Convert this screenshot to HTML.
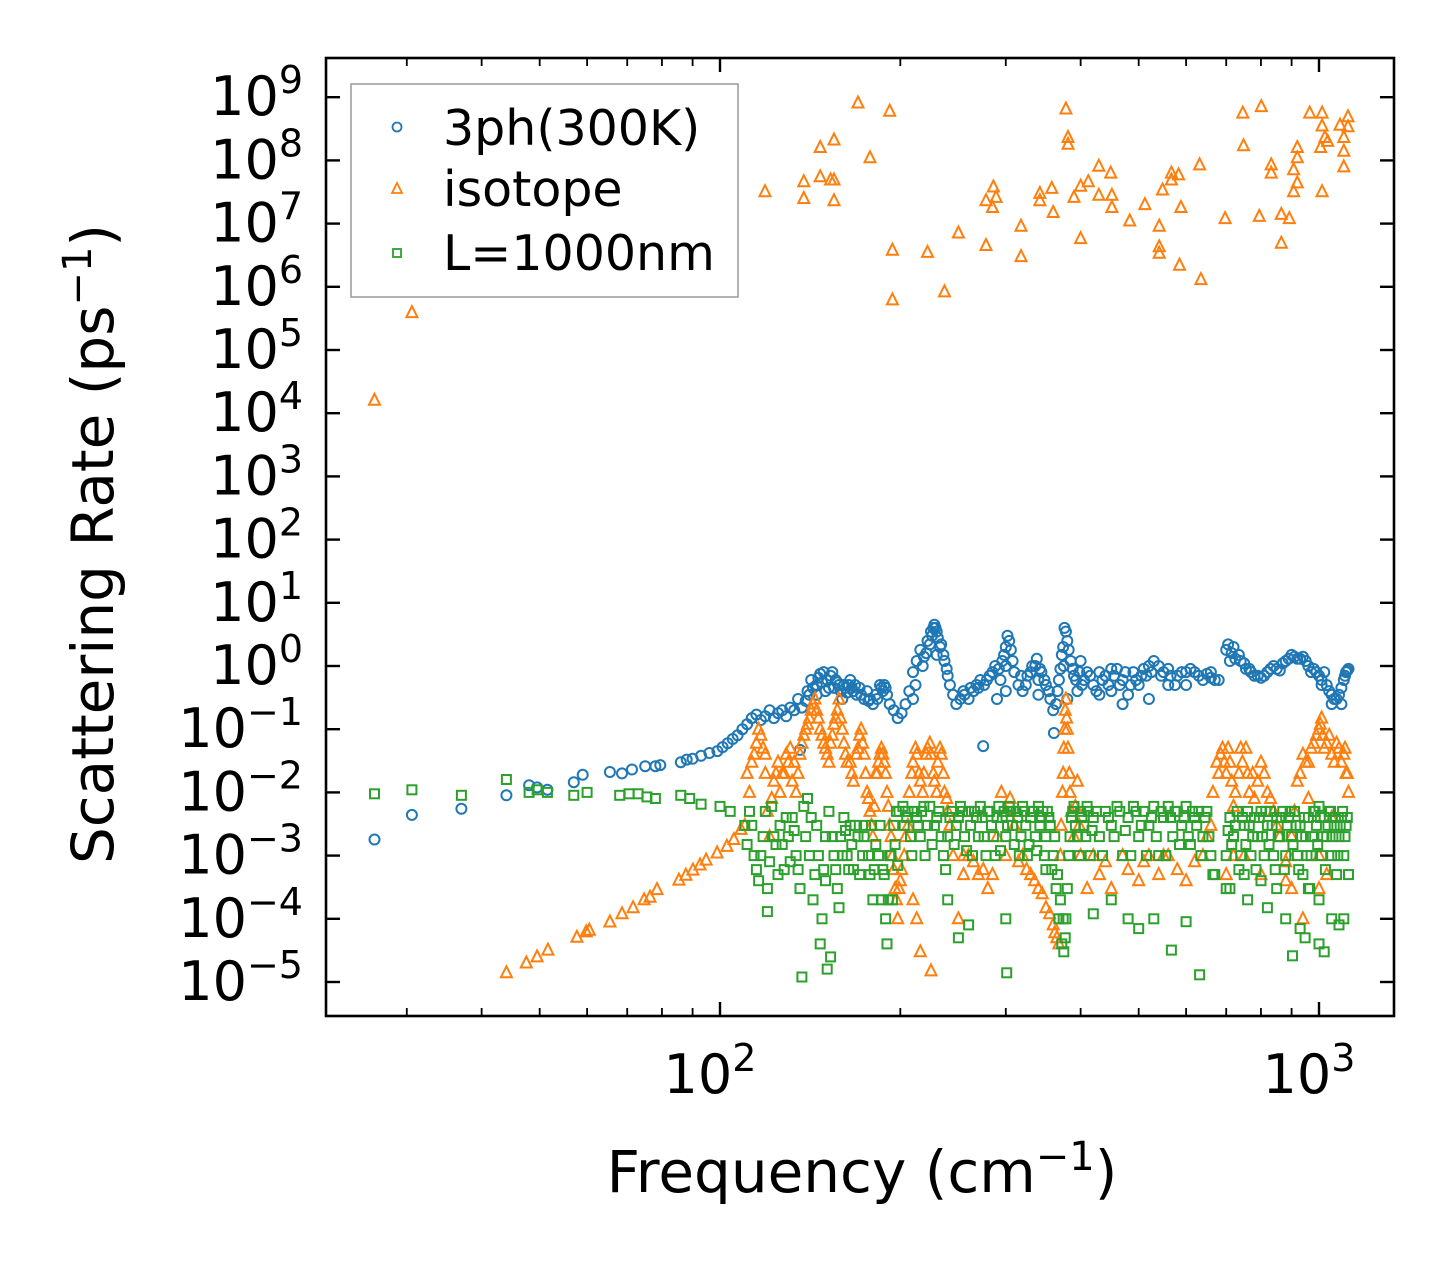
<!DOCTYPE html>
<html><head><meta charset="utf-8"><style>
html,body{margin:0;padding:0;background:#fff;}
svg{display:block;font-family:"DejaVu Sans","Liberation Sans",sans-serif;}
</style></head><body>
<svg id="chart" width="1455" height="1265" viewBox="0 0 1455 1265" xmlns="http://www.w3.org/2000/svg">
<rect x="0" y="0" width="1455" height="1265" fill="#fff"/>
<g id="marks"></g>
<g id="axes"></g>
<rect x="326" y="58" width="1068" height="958" fill="none" stroke="#000" stroke-width="2.6"/>
<text x="862" y="1192" font-size="58" text-anchor="middle">Frequency (cm<tspan dy="-22" font-size="40">−1</tspan><tspan dy="22">)</tspan></text>
<text transform="translate(113,544) rotate(-90)" font-size="58" text-anchor="middle">Scattering Rate (ps<tspan dy="-22" font-size="40">−1</tspan><tspan dy="22">)</tspan></text>
<g>
<rect x="351" y="84" width="387" height="213" fill="#fff" fill-opacity="0.8" stroke="#999" stroke-width="1.5"/>
<circle cx="397" cy="127" r="4.5" fill="none" stroke="#1f77b4" stroke-width="1.8"/>
<text x="443" y="145" font-size="49">3ph(300K)</text>
<polygon points="397,183 402,193 392,193" fill="none" stroke="#ff7f0e" stroke-width="1.8"/>
<text x="443" y="206" font-size="49">isotope</text>
<rect x="393" y="249" width="8" height="8" fill="none" stroke="#2ca02c" stroke-width="1.8"/>
<text x="443" y="270" font-size="49">L=1000nm</text>
</g>
</svg>
<script>
const xTickVals=[100,1000];
const xTickLabels=["2","3"];
const yTickExps=[-5,-4,-3,-2,-1,0,1,2,3,4,5,6,7,8,9];
const phFreq=[26.5,30.6,37,44,48,49.5,51.5,57,59,65.5,68.6,71.3,75,78,79.5,86,88,90,93,96,99,101,103,105,107,109,111,113,115,117,119,121,123,125,127,129,131,133,135,136,137,139,141,143,145,147,149,151,153,155,157,159,161,163,165,167,169,171,174,177,180,183,186,188,190,192,195,198,201,204,207,210,213,216,219,222,225,228,230,233,236,239,242,245,248,252,256,260,265,270,275,276,282,288,294,298,302,306,310,315,320,326,332,338,344,350,356,361,364,368,372,376,380,385,390,395,402,410,420,430,440,450,460,470,480,490,500,515,530,545,560,575,590,610,630,650,670,720,735,750,765,780,800,820,840,860,880,900,920,940,960,980,1000,1020,1040,1060,1080,1100,1110,1120,145,150,160,210,290,300,340,360,380,400,430,470,520,560,600,1010,1050,1090,700,710,230,300,340,375,450,520,660];
const phRate=[1.8e-3,4.4e-3,5.5e-3,9e-3,1.3e-2,1.2e-2,1.1e-2,1.45e-2,1.9e-2,2.1e-2,2e-2,2.3e-2,2.6e-2,2.6e-2,2.7e-2,3e-2,3.3e-2,3.4e-2,3.8e-2,4.2e-2,4.5e-2,5.2e-2,6e-2,7e-2,8e-2,0.1,0.12,0.15,0.17,0.14,0.16,0.2,0.15,0.18,0.2,0.16,0.22,0.2,0.3,0.047,0.22,0.28,0.35,0.45,0.5,0.75,0.8,0.6,0.7,0.45,0.55,0.4,0.5,0.38,0.6,0.4,0.35,0.45,0.3,0.28,0.25,0.3,0.45,0.5,0.35,0.25,0.2,0.15,0.18,0.25,0.4,0.8,1.2,1.8,1.4,2.5,3.5,4.5,3.5,2,1.5,0.9,0.5,0.35,0.25,0.3,0.35,0.3,0.4,0.45,0.054,0.5,0.7,1,0.6,1.5,3,1.8,0.8,0.5,0.4,0.7,1,1.3,0.8,0.5,0.3,0.087,0.25,0.6,1.5,4,2.5,1.2,0.7,0.4,0.5,0.8,0.5,0.35,0.7,0.4,0.9,0.6,0.35,0.8,0.5,0.7,1.2,0.7,0.9,0.5,0.8,0.9,0.7,0.75,0.6,2,1.5,1.1,0.9,0.7,0.65,0.8,1,0.85,1.2,1.5,1.3,1.4,1,0.9,0.7,0.8,0.4,0.3,0.35,0.6,0.8,0.9,0.35,0.4,0.3,0.3,0.3,0.4,0.35,0.2,0.3,1.2,0.8,0.25,0.3,0.5,0.5,0.5,0.25,0.25,1.8,1.2,1.5,1,0.6,1,0.9,1,0.8];
const phFreq2=[140,142,146,148,152,154,156,158,162,164,166,168,172,176,178,182,185,187,189,212,218,221,224,226,227,229,231,234,237,240,255,262,268,272,279,285,292,296,300,304,308,318,324,330,336,342,348,354,366,370,374,378,382,388,393,398,405,415,425,435,445,455,465,475,485,495,505,510,525,540,550,565,580,600,620,640,660,680,705,715,725,740,755,770,790,810,830,850,870,890,910,930,950,970,990,1010,1030,1050,1070,1090,1105,1115];
const phRate2=[0.4,0.6,0.65,0.55,0.45,0.8,0.6,0.5,0.45,0.5,0.45,0.5,0.35,0.4,0.3,0.35,0.5,0.4,0.45,0.5,1,1.6,2.2,3,4,4,2.8,2.2,1.2,0.7,0.4,0.45,0.5,0.6,0.6,0.8,0.9,1.2,2,2.5,1.2,0.7,0.5,0.8,1,0.9,0.6,0.4,0.4,0.9,2,3.5,1.8,0.9,0.6,0.8,0.6,0.7,0.4,0.6,0.5,0.7,0.5,0.8,0.5,0.6,0.7,0.9,0.8,1,0.8,0.7,0.7,0.8,0.8,0.6,0.65,0.6,2.2,1.6,1.3,1.2,0.9,0.8,0.7,0.7,0.9,0.9,1.1,1.3,1.4,1.3,1.2,0.8,0.8,0.6,0.5,0.35,0.3,0.45,0.7,0.85];
const isoFreq=[26.5,30.6,118.9,138,138,147,147,155,153,155,155,170,178,192,194,194,222,237,250,278,278,286,289,285,318,318,342,342,358,360,378,381,381,390,400,400,412,429,429,449,451,451,483,512,541,541,541,548,567,567,583,588,585,632,635,697,746,748,801,795,832,832,865,865,892,907,920,920,920,907,965,1012,1012,1023,1034,1006,1012,1084,1118,1118,1100,1100,1100,
44,47.5,49.5,51.6,57.7,59.8,60.5,65.5,68.6,71.6,74.7,76.4,78.5,85.4,87.7,90.1,92.6,94.8,98.9,102.7,105.5,108.4,
110,112,113,115,116,118,119,120,121,122,124,126,128,130,132,134,136,138,140,142,144,146,148,150,152,154,156,158,160,162,165,167,170,172,174,176,178,180,182,184,186,188,190,192,194,196,198,200,203,206,209,212,215,218,221,224,227,230,233,236,239,242,210,213,216,225,245,250,255,260,270,280,290,295,300,305,310,320,330,340,350,360,365,370,373,375,378,380,383,386,390,395,400,410,430,450,480,500,520,540,560,600,640,660,680,690,700,710,720,740,760,780,800,820,850,880,900,920,950,980,1000,1010,1020,1040,1060,1080,1100,1110,1120,1050,960,880,1000,700,940];
const isoRate=[1.6e4,3.9e5,3.2e7,4.6e7,2.5e7,1.6e8,5.5e7,2.1e8,4.9e7,4.9e7,2.3e7,8.1e8,1.1e8,6e8,3.8e6,6.2e5,3.5e6,8.3e5,7.1e6,4.5e6,2.3e7,3.8e7,2.6e7,1.8e7,9.1e6,3e6,3e7,2.3e7,3.6e7,1.5e7,6.5e8,2.3e8,1.8e8,2.6e7,3.9e7,5.8e6,4.6e7,8.1e7,2.8e7,6.3e7,2.8e7,1.8e7,1.1e7,2e7,9.1e6,4.3e6,3.4e6,3.4e7,6.3e7,4.9e7,5.9e7,1.8e7,2.2e6,8.5e7,1.3e6,1.2e7,5.6e8,1.7e8,7.1e8,1.3e7,8.5e7,6.3e7,1.4e7,4.9e6,1.2e7,7.1e7,4.4e7,1.1e8,1.6e8,3.2e7,5.6e8,5.6e8,3.5e8,2.3e8,2e8,1.6e8,3.2e7,3.6e8,4.9e8,3.4e8,2.3e8,1.4e8,7.9e7,
1.4e-5,2e-5,2.5e-5,3.2e-5,5.1e-5,6.2e-5,6.6e-5,8.9e-5,1.2e-4,1.5e-4,2e-4,2.2e-4,2.9e-4,4.1e-4,4.9e-4,5.9e-4,7.1e-4,8.5e-4,1.1e-3,1.4e-3,1.8e-3,2.6e-3,
3e-3,0.01,0.03,0.06,0.1,0.05,0.02,5e-3,2e-3,8e-3,0.02,0.01,0.02,0.03,0.015,0.01,0.04,0.08,0.12,0.2,0.3,0.15,0.08,0.05,0.03,0.08,0.15,0.3,0.1,0.04,0.03,0.015,0.05,0.1,0.04,0.01,5e-3,2e-3,0.02,0.03,0.05,0.03,0.01,3e-3,1e-3,3e-4,1e-4,4e-4,1e-3,3e-3,0.02,0.05,0.02,0.01,0.04,0.06,0.02,0.01,0.05,0.02,8e-3,3e-3,2e-4,1e-4,3e-5,1.5e-5,1e-3,1e-4,5e-4,1e-3,5e-4,3e-4,2e-3,0.01,5e-3,8e-3,3e-3,1e-3,5e-4,3e-4,1.5e-4,8e-5,5e-5,1e-3,0.01,0.05,0.3,0.1,0.02,5e-3,2e-3,0.015,1e-3,3e-4,5e-4,3e-4,6e-4,4e-4,1e-3,5e-4,1e-3,4e-4,1e-3,3e-3,0.02,0.05,0.02,0.03,6e-3,0.05,0.02,8e-3,0.03,0.01,3e-3,8e-4,2e-3,0.015,0.03,0.06,0.1,0.15,0.05,0.08,0.03,0.05,0.04,0.02,0.01,4e-3,8e-3,4e-4,1e-3,5e-4,1e-4];
const isoFreq2=[111,114,117,119,123,125,127,129,131,133,135,137,139,141,143,145,147,149,151,153,155,157,159,161,163,166,169,171,173,175,177,179,181,183,185,187,189,191,193,195,197,199,201,204,207,210,213,216,219,222,225,228,231,234,237,240,255,265,275,285,300,315,325,335,345,355,362,368,371,374,376,377,379,381,384,392,398,420,440,470,510,550,580,620,650,665,675,685,695,705,715,725,735,745,755,765,775,790,810,830,840,860,890,910,930,940,960,970,990,1005,1015,1030,1050,1070,1090,1105,1115,1000,1030,900,800,750,720];
const isoRate2=[0.02,0.04,0.08,0.04,0.015,0.03,0.02,0.04,0.05,0.03,0.02,0.06,0.1,0.15,0.25,0.2,0.1,0.06,0.04,0.06,0.12,0.2,0.15,0.06,0.03,0.02,0.04,0.08,0.06,0.02,8e-3,3e-3,6e-3,0.02,0.04,0.04,0.02,6e-3,2e-3,6e-4,2e-4,3e-4,6e-4,2e-3,0.01,0.03,0.04,0.015,0.02,0.05,0.04,0.015,0.03,0.04,0.01,5e-3,1e-3,8e-4,6e-4,5e-4,1e-3,8e-4,6e-4,4e-4,2.5e-4,1.2e-4,6e-5,4e-5,3e-3,0.02,0.1,0.2,0.15,0.05,0.01,6e-3,3e-3,1e-3,8e-4,1e-3,8e-4,1e-3,6e-4,8e-4,2e-3,0.01,0.03,0.04,0.03,0.05,0.015,0.01,0.02,0.03,0.05,0.01,0.02,0.015,0.02,8e-3,5e-3,2e-3,1e-3,5e-3,0.02,0.04,0.03,0.05,0.08,0.12,0.08,0.06,0.04,0.06,0.03,0.05,0.02,3e-4,5e-4,3e-4,5e-4,1e-3,1e-3];
const bdFreq=[26.5,30.6,37,44,48,49.5,51.5,57,60,68,70.5,73,75.5,78,86,89,93,100,104,
110,112,114,116,118,120,120,122,124,126,128,130,132,134,136,137,138,140,141,143,144,145,147,148,149,150,151,152,153,155,157,159,161,163,165,167,170,173,175,178,180,182,185,187,189,190,191,193,195,197,199,202,205,208,211,214,217,220,224,228,232,236,238,240,244,248,252,256,260,264,268,272,276,280,284,288,292,296,300,301,304,308,312,316,320,324,328,332,336,340,344,348,352,356,360,364,368,372,375,378,382,386,390,395,400,405,410,415,420,430,440,450,460,470,480,490,500,510,520,530,540,550,560,570,580,590,600,610,620,630,640,650,660,670,632,567,480,500,530,600,450,420,350,250,240,260,300,
700,710,720,730,740,750,760,770,780,790,800,810,820,830,840,850,860,870,880,890,900,910,920,930,940,950,960,970,980,990,1000,1010,1020,1030,1040,1050,1060,1070,1080,1090,1100,1110,1120,
710,760,800,850,880,903,930,948,1000,1020,1050,1080,1100,750,700,820,960,1000];
const bdRate=[9.5e-3,1.1e-2,9e-3,1.6e-2,1e-2,1.1e-2,1e-2,9e-3,1e-2,9e-3,9.5e-3,9.5e-3,8.5e-3,8e-3,9e-3,8e-3,6.5e-3,6e-3,5e-3,
3e-3,5e-3,1e-3,4e-4,2e-3,3e-4,1.3e-4,6e-3,1.5e-3,3e-3,6e-4,2e-3,4e-3,1e-3,3e-4,1.2e-5,6e-3,8e-3,1e-3,2e-4,5e-4,3e-3,4e-5,1e-4,6e-4,2e-3,1.6e-5,5e-3,2.5e-5,1e-3,3e-4,2e-3,4e-3,1e-3,3e-3,6e-4,2e-3,1e-3,3e-3,5e-4,2e-4,1.5e-3,3e-3,6e-4,1e-4,4e-5,2e-4,1e-3,3e-3,5e-3,5e-3,6e-3,4e-3,2e-3,5e-3,3e-3,5e-3,1e-3,6e-3,3e-3,5e-3,1e-3,6e-4,2e-3,5e-3,3e-3,6e-3,2e-3,5e-3,1e-3,4e-3,6e-3,2e-3,5e-3,3e-3,1e-3,6e-3,4e-3,2e-3,1.4e-5,6e-3,3e-3,5e-3,1e-3,6e-3,3e-3,1.5e-3,5e-3,2e-3,6e-3,4e-3,1e-3,5e-3,3e-3,1e-3,3e-4,1e-4,4e-5,3e-5,1e-4,1e-3,4e-3,6e-3,2e-3,5e-3,3e-3,6e-3,1e-3,4e-3,2e-3,5e-3,3e-3,6e-3,1e-3,4e-3,6e-3,2e-3,5e-3,3e-3,6e-3,1e-3,4e-3,6e-3,2e-3,5e-3,3e-3,6e-3,1.5e-3,4e-3,5e-3,2e-3,5e-3,1e-3,5e-4,1.3e-5,3.2e-5,1e-4,7e-5,1e-4,9e-5,2e-4,1.2e-4,6e-4,5e-5,2e-4,8e-5,1e-4,
1e-3,4e-3,2e-3,5e-3,1e-3,3e-3,5e-3,1e-3,4e-3,2e-3,5e-3,1e-3,3e-3,5e-3,1e-3,4e-3,2e-3,5e-3,1e-3,4e-3,2e-3,5e-3,1e-3,3e-3,5e-4,2e-3,4e-3,1e-3,5e-3,3e-3,6e-3,1e-3,4e-3,2e-3,5e-3,1e-3,3e-3,5e-4,2e-3,4e-3,1e-3,3e-3,5e-4,
3e-4,2e-4,4e-4,3e-4,1e-4,2.6e-5,7e-5,5e-5,4e-5,3e-5,1e-4,8e-5,1e-4,5e-4,3e-4,1.5e-4,3e-4,2e-4];
const bdFreq2=[196,198,203,206,209,213,216,219,222,226,230,234,242,246,250,254,258,262,266,270,274,278,282,286,290,294,298,302,306,310,314,318,322,326,330,334,338,342,346,350,354,358,362,366,370,374,377,380,384,388,392,398,402,408,412,418,425,435,445,455,465,475,485,495,505,515,525,535,545,555,565,575,585,595,605,615,625,635,645,655,665,
111,113,115,117,119,121,123,125,127,129,131,133,135,139,142,146,150,154,156,158,160,162,164,166,168,171,174,177,179,181,184,186,188,192,194,
705,715,725,735,745,755,765,775,785,795,805,815,825,835,845,855,865,875,885,895,905,915,925,935,945,955,965,975,985,995,1005,1015,1025,1035,1045,1055,1065,1075,1085,1095,1105,1115];
const bdRate2=[1.5e-3,7e-4,3e-3,5e-3,1e-3,4e-3,2e-3,6e-3,3e-3,1.5e-3,4e-3,2e-3,4e-3,1.5e-3,4e-3,5e-3,1.2e-3,3e-3,5e-3,2e-3,4e-3,1e-3,5e-3,2e-3,4e-3,1.2e-3,5e-3,3e-3,5e-3,1.5e-3,4e-3,2e-3,5e-3,1e-3,4e-3,5e-3,1.2e-3,3e-3,5e-3,2e-3,4e-3,6e-4,2e-3,5e-4,2e-4,1e-4,5e-5,3e-4,2e-3,5e-3,3e-3,1e-3,4e-3,2e-3,5e-3,2.5e-3,5e-3,1e-3,4e-3,2e-3,5e-3,2.5e-3,1e-3,5e-3,3e-3,1e-3,4e-3,2e-3,5e-3,1e-3,4e-3,5e-3,1.5e-3,4e-3,2e-3,5e-3,3e-3,1e-3,4e-3,2e-3,5e-4,
1.5e-3,3e-3,6e-4,1e-3,5e-3,8e-4,2e-3,5e-4,1.5e-3,4e-3,8e-4,2.5e-3,6e-4,2e-3,4e-3,1e-3,4e-4,2e-3,6e-4,1.5e-4,1e-3,2.5e-3,6e-4,1.5e-3,3e-3,5e-4,2e-3,1e-3,3e-3,6e-4,1e-3,2e-4,5e-4,1e-3,2e-4,
2.5e-3,1.5e-3,3e-3,6e-4,4e-3,1.5e-3,3e-3,2e-3,6e-4,4e-3,2e-3,5e-3,1.5e-3,3e-3,6e-4,2e-3,4e-3,6e-4,3e-3,5e-3,1.5e-3,3e-3,6e-4,2e-3,4e-3,1e-3,3e-4,2e-3,5e-3,1.5e-3,4e-3,2e-3,6e-4,3e-3,5e-3,2e-3,4e-3,1e-3,3e-3,5e-3,2e-3,4e-3];

const NS='http://www.w3.org/2000/svg';
const X0=720, DEC_X=599, Y0=666, DEC_Y=63.2;
function xs(f){return X0+(Math.log10(f)-2)*DEC_X;}
function ys(r){return Y0-Math.log10(r)*DEC_Y;}
const marks=document.getElementById('marks');
const axes=document.getElementById('axes');
function mk(tag,attrs,parent){const e=document.createElementNS(NS,tag);for(const k in attrs)e.setAttribute(k,attrs[k]);parent.appendChild(e);return e;}

const PF=phFreq.concat(phFreq2), PR=phRate.concat(phRate2);
const IF=isoFreq.concat(isoFreq2), IR=isoRate.concat(isoRate2);
const BF=bdFreq.concat(bdFreq2), BR=bdRate.concat(bdRate2);

const gB=mk('g',{},marks);


for(let i=0;i<PF.length;i++){
  const c=mk('circle',{cx:xs(PF[i]).toFixed(1),cy:ys(PR[i]).toFixed(1),r:5,fill:'none',stroke:'#1f77b4','stroke-width':2},gB);
  
  
}
const gO=mk('g',{},marks);


for(let i=0;i<IF.length;i++){
  const x=xs(IF[i]),y=ys(IR[i]);
  const p=mk('polygon',{points:`${x.toFixed(1)},${(y-6.5).toFixed(1)} ${(x+5.5).toFixed(1)},${(y+4.5).toFixed(1)} ${(x-5.5).toFixed(1)},${(y+4.5).toFixed(1)}`,fill:'none',stroke:'#ff7f0e','stroke-width':2},gO);
  
  
}
const gG=mk('g',{},marks);


for(let i=0;i<BF.length;i++){
  const x=xs(BF[i]),y=ys(BR[i]);
  const s=mk('rect',{x:(x-4.5).toFixed(1),y:(y-4.5).toFixed(1),width:9,height:9,fill:'none',stroke:'#2ca02c','stroke-width':2},gG);
  
  
}
const L=326,R=1394,T=58,B=1016;
for(let e=1;e<=3;e++){for(let m=1;m<10;m++){const f=m*Math.pow(10,e);const x=xs(f);if(x<L||x>R)continue;const len=m===1?14:8;
  const t1=mk('line',{x1:x,x2:x,y1:B,y2:B-len,stroke:'#000','stroke-width':m===1?2.4:1.8},axes);
  
  
  const t2=mk('line',{x1:x,x2:x,y1:T,y2:T+len,stroke:'#000','stroke-width':m===1?2.4:1.8},axes);
  
  
}}
xTickVals.forEach((v,i)=>{const x=xs(v);
  const t=mk('text',{x:x-10,y:1093,'font-size':54,'text-anchor':'middle'},axes);
  
  
  t.textContent='10';
  const s=mk('tspan',{dy:-22,'font-size':38},t);s.textContent=xTickLabels[i];
});
yTickExps.forEach(e=>{const y=ys(Math.pow(10,e));
  const a=mk('line',{x1:L,x2:L+14,y1:y,y2:y,stroke:'#000','stroke-width':2.4},axes);
  
  
  const b=mk('line',{x1:R-14,x2:R,y1:y,y2:y,stroke:'#000','stroke-width':2.4},axes);
  
  
  const t=mk('text',{x:303,y:y+18,'font-size':54,'text-anchor':'end'},axes);
  
  
  const base=mk('tspan',{},t);base.textContent='10';
  const s=mk('tspan',{dy:-22,'font-size':38},t);s.textContent=(e<0?'−':'')+Math.abs(e);
});
</script>
</body></html>
